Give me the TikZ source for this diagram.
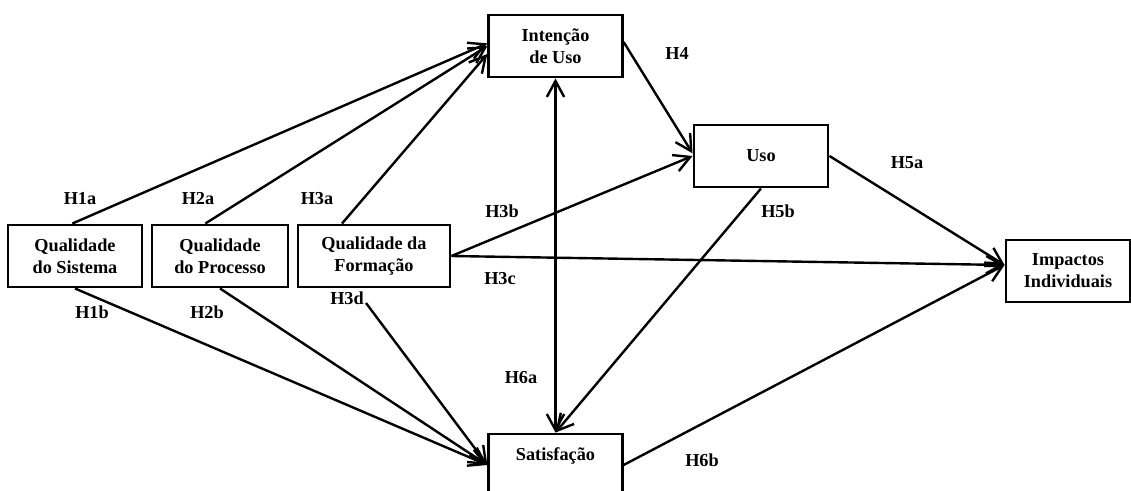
\documentclass[tikz,border=0pt]{standalone}
\usepackage{fontspec}
\setmainfont{Liberation Serif}
\usetikzlibrary{arrows.meta}
\tikzset{
	line width = 1.8pt,
	>={Straight Barb[length=12pt,width=13pt]},
	font = \fontsize{13.7}{16.5}\selectfont\bfseries,
	construct/.style={
		draw,
		rectangle,
		line width=2.2pt,
		align=center,
		minimum height=46.5pt,
		inner sep=2pt
	},
	link/.style={
		->,
		line width=1.8pt
	},
	hyp/.style={
		inner sep=0pt
	}
}

\begin{document}
\begin{tikzpicture}[x=.75pt, y=-.75pt]
		\useasboundingbox (0,0) rectangle (1131,491);

		\node[construct, minimum width=100.5pt] (QS) at (75,256) {Qualidade\\do Sistema};
		\node[construct, minimum width=102pt] (QP) at (220,256) {Qualidade\\do Processo};
		\node[construct, minimum width=114pt] (QF) at (374,256) {Qualidade da\\Formação};
		\node[construct, minimum width=100pt] (Int) at (555.5,46) {Intenção\\de Uso};
		\node[construct, minimum width=100.5pt] (Uso) at (761,156) {Uso};
		\node[construct, minimum width=93pt] (Imp) at (1068,271) {Impactos\\Individuais};
		\node[construct, minimum width=100pt] (Sat) at (555.5,465) {Satisfação\\~};

		\coordinate (f3d) at (366,303);
		\coordinate (impIn) at ([yshift=4.5pt]Imp.west);

		\draw[link] ([xshift=-2pt]QS.north) -- ([yshift=2pt]Int.west);
		\draw[link] ([xshift=-11pt]QP.north) -- (Int.west);
		\draw[link] ([xshift=-24pt]QF.north) -- ([yshift=-6pt]Int.west);
		\draw[link] (QF.east) -- (Uso.west);
		\draw[link] (QF.east) -- (impIn);
		\draw[link] (QS.south) -- (Sat.west);
		\draw[link] (QP.south) -- (Sat.west);
		\draw[link] (f3d) -- (Sat.west);
		\draw[link] ([yshift=3pt]Int.east) -- ([yshift=2pt]Uso.west);
		\draw[link, <->] (Int.south) -- (Sat.north);
		\draw[link] (Uso.south) -- (Sat.north);
		\draw[link] (Uso.east) -- (impIn);
		\draw[link] (Sat.east) -- (impIn);

		\node[hyp] at (80,199) {H1a};
		\node[hyp] at (198,199) {H2a};
		\node[hyp] at (317,199) {H3a};
		\node[hyp] at (502,211) {H3b};
		\node[hyp] at (500,279) {H3c};
		\node[hyp] at (347,298) {H3d};
		\node[hyp] at (92,312) {H1b};
		\node[hyp] at (207,312) {H2b};
		\node[hyp] at (677,53) {H4};
		\node[hyp] at (907,163) {H5a};
		\node[hyp] at (778,211) {H5b};
		\node[hyp] at (521,378) {H6a};
		\node[hyp] at (702,460) {H6b};
	\end{tikzpicture}
\end{document}
